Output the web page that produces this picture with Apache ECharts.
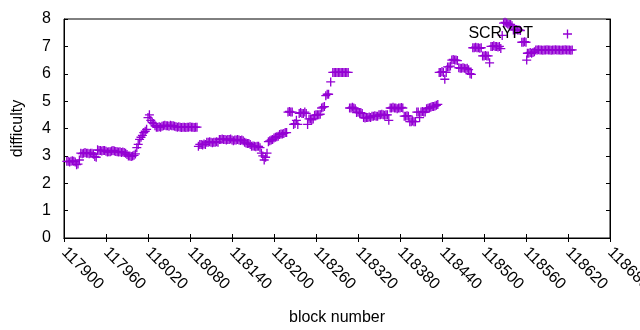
<!DOCTYPE html>
<html>
<head>
<meta charset="utf-8">
<script src="https://cdn.jsdelivr.net/npm/echarts@6/dist/echarts.min.js"></script>
<style>
  html, body { margin: 0; padding: 0; background: #fff; }
  #chart { width: 640px; height: 330px; }
</style>
</head>
<body>
<div id="chart"></div>
<script>
// block numbers (x) and difficulty (y)
const blocks = [
  117904, 117906, 117908, 117910, 117912, 117914, 117916,
  117918, 117920, 117922,
  117924, 117926, 117928, 117930, 117932, 117934, 117936, 117938, 117940, 117942,
  117944, 117946,
  117948, 117950, 117952, 117954, 117956, 117958, 117960,
  117962, 117964, 117966, 117968, 117970, 117972, 117974, 117976, 117978, 117980, 117982, 117984, 117986, 117988, 117990,
  117992, 117994, 117996, 117998, 118000,
  118002, 118004, 118006, 118008, 118010, 118012, 118014, 118016, 118018, 118020, 118022, 118024, 118026, 118028, 118030,
  118032, 118034, 118036, 118038, 118040, 118042, 118044, 118046, 118048, 118050, 118052, 118054, 118056, 118058, 118060,
  118062, 118064, 118066, 118068, 118070, 118072, 118074, 118076, 118078, 118080, 118082, 118084, 118086, 118088, 118090,
  118092, 118094, 118096, 118098, 118100, 118102,
  118104, 118106, 118108, 118110, 118112, 118114, 118116, 118118, 118120,
  118122, 118124, 118126, 118128, 118130, 118132, 118134, 118136, 118138, 118140,
  118142,
  118144, 118146, 118148, 118150, 118152, 118154, 118156, 118158,
  118160, 118162, 118164, 118166,
  118168, 118170, 118172, 118174, 118176, 118178, 118180,
  118182, 118184, 118186, 118188, 118190,
  118192, 118194, 118196, 118198,
  118200, 118202, 118204, 118206,
  118208, 118210, 118212, 118214, 118216, 118218,
  118220, 118222, 118224, 118226,
  118228, 118230, 118232, 118234,
  118236, 118238, 118240, 118242, 118244, 118246,
  118248,
  118250, 118252, 118254, 118256,
  118258, 118260, 118262, 118264, 118266,
  118268, 118270, 118272,
  118274, 118276, 118278,
  118281,
  118284, 118286, 118288, 118290, 118292, 118294, 118296, 118298, 118300, 118302, 118304, 118306,
  118308, 118310, 118312, 118314, 118316,
  118318, 118320, 118322, 118324, 118326,
  118328, 118330, 118332, 118334, 118336, 118338,
  118340, 118342, 118344, 118346, 118348,
  118350, 118352, 118354, 118356, 118358, 118360, 118362,
  118364,
  118366, 118368, 118370, 118372, 118374, 118376, 118378, 118380, 118382, 118384,
  118386, 118388, 118390, 118392,
  118394, 118396, 118398, 118400, 118402,
  118404, 118406, 118408, 118410, 118412, 118414, 118416,
  118418, 118420, 118422, 118424, 118426, 118428, 118430, 118432, 118434,
  118436, 118438, 118440, 118442, 118444, 118446,
  118448, 118450, 118452,
  118454, 118456, 118458, 118460, 118462,
  118464, 118466, 118468, 118470, 118472, 118474, 118476, 118478,
  118480, 118482,
  118484, 118486, 118488, 118490, 118492, 118494, 118496,
  118498, 118500, 118502, 118504, 118506,
  118508,
  118510, 118512, 118514, 118516, 118518, 118520, 118522, 118524,
  118526,
  118528, 118530, 118532, 118534, 118536, 118538, 118540,
  118542, 118544, 118546, 118548, 118550, 118552,
  118554, 118556, 118558, 118560,
  118561,
  118562, 118564, 118566, 118568, 118570, 118572,
  118574, 118576, 118578, 118580, 118582, 118584, 118586, 118588, 118590,
  118592, 118594, 118596, 118598, 118600, 118602, 118604, 118606, 118608,
  118610, 118612, 118614, 118616, 118618, 118620, 118622, 118624, 118626
];
const difficulty = [
  2.8, 2.8, 2.78, 2.8, 2.82, 2.8, 2.78,
  2.68, 2.7, 2.85,
  3.1, 3.08, 3.1, 3.12, 3.1, 3.1, 3.08, 3.1, 3.1, 3.06,
  2.98, 2.95,
  3.22, 3.2, 3.2, 3.18, 3.2, 3.2, 3.17,
  3.14, 3.15, 3.15, 3.18, 3.2, 3.18, 3.16, 3.15, 3.14, 3.15, 3.12, 3.14, 3.12, 3.1, 3.05,
  3.0, 3.0, 2.98, 3.0, 3.02,
  3.07, 3.3, 3.42, 3.6, 3.68, 3.75, 3.85, 3.9, 3.97, 4.4, 4.5, 4.3, 4.22, 4.18, 4.1,
  4.05, 4.05, 4.06, 4.05, 4.08, 4.1, 4.12, 4.1, 4.1, 4.08, 4.12, 4.1, 4.1, 4.08, 4.06,
  4.05, 4.06, 4.05, 4.04, 4.05, 4.05, 4.04, 4.05, 4.05, 4.06, 4.05, 4.05, 4.04, 4.05, 4.05,
  3.35, 3.42, 3.42, 3.4, 3.43, 3.42,
  3.5, 3.5, 3.52, 3.5, 3.48, 3.5, 3.5, 3.52, 3.5,
  3.6, 3.6, 3.62, 3.6, 3.6, 3.58, 3.6, 3.6, 3.62, 3.58,
  3.55,
  3.58, 3.58, 3.6, 3.58, 3.56, 3.58, 3.55, 3.5,
  3.47, 3.45, 3.45, 3.42,
  3.35, 3.36, 3.35, 3.33, 3.35, 3.35, 3.3,
  3.1, 3.0, 2.85, 2.95, 3.1,
  3.52, 3.55, 3.58, 3.6,
  3.65, 3.68, 3.7, 3.72,
  3.78, 3.8, 3.8, 3.82, 3.85, 3.85,
  4.6, 4.62, 4.6, 4.6,
  4.15, 4.18, 4.3, 4.15,
  4.55, 4.58, 4.55, 4.55, 4.6, 4.55,
  4.15,
  4.35, 4.35, 4.32, 4.35,
  4.48, 4.5, 4.5, 4.5, 4.52,
  4.75, 4.78, 4.8,
  5.2, 5.25, 5.25,
  5.7,
  6.05, 6.05, 6.05, 6.05, 6.05, 6.05, 6.05, 6.05, 6.05, 6.05, 6.05, 6.05,
  4.75, 4.75, 4.78, 4.75, 4.72,
  4.58, 4.6, 4.58, 4.58, 4.55,
  4.4, 4.38, 4.4, 4.4, 4.42, 4.4,
  4.45, 4.45, 4.47, 4.45, 4.45,
  4.5, 4.5, 4.52, 4.5, 4.48, 4.5, 4.5,
  4.3,
  4.75, 4.75, 4.78, 4.75, 4.75, 4.72, 4.75, 4.75, 4.77, 4.75,
  4.45, 4.45, 4.47, 4.45,
  4.25, 4.25, 4.27, 4.25, 4.25,
  4.6, 4.6, 4.4, 4.6, 4.62, 4.6, 4.6,
  4.72, 4.74, 4.76, 4.78, 4.8, 4.8, 4.82, 4.85, 4.88,
  6.05, 6.05, 6.08, 6.05, 5.8, 6.05,
  6.25, 6.25, 6.28,
  6.5, 6.52, 6.5, 6.5, 6.48,
  6.22, 6.2, 6.2, 6.22, 6.2, 6.18, 6.2, 6.15,
  6.0, 5.98,
  6.95, 6.95, 6.97, 6.95, 6.95, 6.93, 6.95,
  6.65, 6.65, 6.67, 6.65, 6.65,
  6.4,
  7.0, 7.0, 7.02, 7.0, 7.0, 6.98, 7.0, 6.92,
  7.4,
  7.85, 7.88, 7.85, 7.82, 7.8, 7.8, 7.75,
  7.6, 7.6, 7.62, 7.6, 7.6, 7.58,
  7.15, 7.15, 7.17, 7.15,
  6.5,
  6.75, 6.75, 6.78, 6.75, 6.78, 6.8,
  6.87, 6.87, 6.88, 6.87, 6.87, 6.86, 6.87, 6.87, 6.88,
  6.87, 6.87, 6.86, 6.87, 6.87, 6.88, 6.87, 6.87, 6.87,
  6.86, 6.87, 6.87, 6.88, 6.87, 6.87, 6.87, 6.86, 6.87
];
const seriesName = 'SCRYPT';

const plus = 'path://M6.4,0H8.6V6.4H15V8.6H8.6V15H6.4V8.6H0V6.4H6.4Z';
const font = 'Liberation Sans';
const fs = 16;

let points = [];
for (var i = 0; i < blocks.length; i++) {
    points.push([blocks[i], difficulty[i]]);
}

const chart = echarts.init(document.getElementById('chart'), null, {renderer: 'canvas'});

const tickIn = {show: true, inside: true, length: 4, lineStyle: {color: '#000', width: 1}};
const option = {
    animation: false,
    backgroundColor: '#fff',
    textStyle: {fontFamily: font},
    grid: {
        left: 64, right: 30, top: 19, bottom: 92,
        outerBoundsMode: 'none', containLabel: false,
        show: true, borderColor: '#000', borderWidth: 1
    },
    legend: {
        data: [seriesName],
        right: 63,
        top: 21,
        align: 'right',
        icon: plus,
        itemWidth: 9,
        itemHeight: 9,
        textStyle: {fontSize: fs, color: '#000', fontFamily: font, padding: [0, 25, 0, 0]}
    },
    xAxis: [{
        type: 'value',
        min: 117900,
        max: 118680,
        interval: 60,
        name: 'block number',
        nameLocation: 'middle',
        nameGap: 72,
        nameTextStyle: {fontSize: fs, color: '#000', fontFamily: font},
        axisLine: {show: true, lineStyle: {color: '#000'}},
        axisTick: tickIn,
        splitLine: {show: false},
        axisLabel: {
            rotate: -45, margin: 12, fontSize: fs, color: '#000', fontFamily: font,
            formatter: function (v) { return String(v); }
        }
    }, {
        type: 'value',
        position: 'top',
        min: 117900,
        max: 118680,
        interval: 60,
        axisLine: {show: true, lineStyle: {color: '#000'}},
        axisTick: tickIn,
        splitLine: {show: false},
        axisLabel: {show: false}
    }],
    yAxis: [{
        type: 'value',
        min: 0,
        max: 8,
        interval: 1,
        name: 'difficulty',
        nameLocation: 'middle',
        nameGap: 38,
        nameTextStyle: {fontSize: fs, color: '#000', fontFamily: font},
        axisLine: {show: true, lineStyle: {color: '#000'}},
        axisTick: tickIn,
        splitLine: {show: false},
        axisLabel: {margin: 13, fontSize: fs, color: '#000', fontFamily: font}
    }, {
        type: 'value',
        position: 'right',
        min: 0,
        max: 8,
        interval: 1,
        axisLine: {show: true, lineStyle: {color: '#000'}},
        axisTick: tickIn,
        splitLine: {show: false},
        axisLabel: {show: false}
    }],
    series: [{
        name: seriesName,
        type: 'scatter',
        symbol: plus,
        symbolSize: 9,
        itemStyle: {color: '#9400d3', opacity: 1},
        data: points
    }]
};
chart.setOption(option);
</script>
</body>
</html>
